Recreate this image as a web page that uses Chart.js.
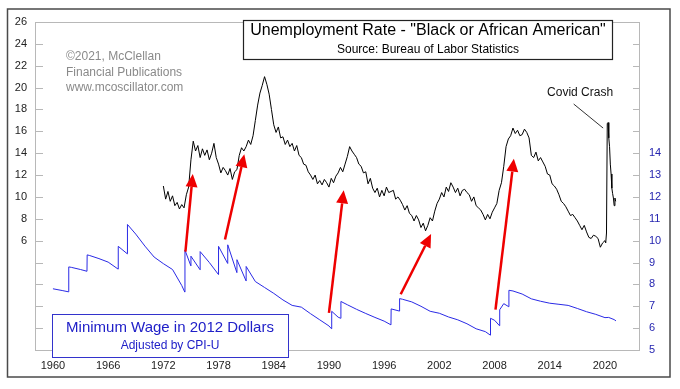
<!DOCTYPE html>
<html><head><meta charset="utf-8">
<script src="https://cdn.jsdelivr.net/npm/chart.js@4.4.0/dist/chart.umd.min.js"></script>
<style>html,body{margin:0;padding:0;background:#fff;}canvas{display:block;}</style>
</head><body>
<canvas id="c" width="680" height="389"></canvas>
<script>
// ---------- DATA ----------
const xTickYears = [1960,1966,1972,1978,1984,1990,1996,2002,2008,2014,2020];
const leftTickLabels = [6,8,10,12,14,16,18,20,22,24,26];
const rightTickLabels = [5,6,7,8,9,10,11,12,13,14];
const leftTickMarks = [-2,0,2,4,6,8,10,12,14,16,18,20,22,24];

// Unemployment rate, Black or African American (%), quarterly from 1972
const unempStartYear = 1972;
const unempQuarterly = [
  11.0, 9.8, 10.5, 9.6,   // 1972
  10.1, 9.2, 9.5, 8.9,    // 1973
  9.3, 9.0, 10.2, 10.9,   // 1974
  13.4, 15.1, 14.2, 14.7, // 1975
  13.6, 14.4, 13.8, 14.3, // 1976
  13.4, 14.0, 14.9, 13.6, // 1977
  13.0, 12.2, 12.7, 12.4, // 1978
  12.0, 12.6, 11.6, 12.3, // 1979
  12.5, 13.8, 14.5, 14.2, // 1980
  14.6, 15.2, 14.8, 15.6, // 1981
  17.0, 18.4, 19.5, 20.2, // 1982
  21.0, 20.3, 19.4, 18.0, // 1983
  16.6, 15.9, 16.4, 15.4, // 1984
  15.5, 14.8, 15.2, 14.6, // 1985
  14.9, 14.2, 14.7, 13.8, // 1986
  13.6, 13.0, 12.9, 12.3, // 1987
  12.0, 11.6, 12.0, 11.2, // 1988
  11.5, 11.1, 11.6, 11.3, // 1989
  10.9, 11.7, 11.3, 11.9, // 1990
  12.2, 12.7, 12.3, 13.0, // 1991
  13.7, 14.6, 14.2, 13.9, // 1992
  13.6, 13.0, 12.8, 12.2, // 1993
  12.3, 11.2, 11.7, 10.8, // 1994
  10.4, 10.8, 10.0, 10.6, // 1995
  10.1, 10.9, 10.4, 10.5, // 1996
  10.6, 9.8, 10.0, 9.7,   // 1997
  9.3, 8.8, 9.2, 8.5,     // 1998
  8.3, 7.8, 8.3, 7.9,     // 1999
  7.2, 7.6, 6.9, 7.4,     // 2000
  8.1, 7.8, 8.7, 9.4,     // 2001
  9.8, 10.4, 10.0, 10.9,  // 2002
  10.5, 11.3, 10.9, 10.4, // 2003
  10.8, 10.1, 10.6, 10.7, // 2004
  10.4, 10.2, 9.6, 10.0,  // 2005
  9.2, 9.0, 8.8, 8.4,     // 2006
  7.9, 8.4, 8.0, 8.6,     // 2007
  9.0, 9.4, 10.6, 11.3,   // 2008
  12.8, 14.6, 15.3, 15.6, // 2009
  16.3, 15.8, 16.1, 15.6, // 2010
  15.7, 16.2, 15.9, 15.4, // 2011
  13.8, 13.6, 14.1, 13.3, // 2012
  13.6, 13.2, 12.8, 12.1, // 2013
  12.0, 11.2, 11.0, 10.7, // 2014
  10.2, 9.6, 9.4, 9.1,    // 2015
  8.7, 8.3, 8.4, 8.1,     // 2016
  7.8, 7.4, 7.0, 7.4,     // 2017
  6.8, 6.3, 6.2, 6.5,     // 2018
  6.4, 6.2, 5.4, 5.8      // 2019
];
// Monthly from Jan 2020
const unempMonthly2020 = [6.0, 5.8, 6.7, 16.7, 16.8, 15.4, 14.6, 13.0, 12.1, 10.8, 10.3, 9.9, 9.2, 9.9, 9.6];

// Minimum wage in 2012 dollars (right axis)
const wageYears = [
  1960.0, 1961.0, 1961.70, 1961.72, 1962.0, 1963.0, 1963.70, 1963.72, 1964.0, 1965.0, 1966.0,
  1967.08, 1967.10, 1968.08, 1968.10, 1969.0, 1970.0, 1971.0, 1972.0, 1973.0, 1974.0,
  1974.33, 1974.35, 1974.99, 1975.0, 1975.99, 1976.0, 1977.0, 1977.99, 1978.0, 1978.99,
  1979.0, 1979.99, 1980.0, 1980.99, 1981.0, 1982.0, 1983.0, 1984.0, 1985.0, 1986.0,
  1987.0, 1988.0, 1989.0, 1990.0, 1990.28, 1990.30, 1991.0, 1991.28, 1991.30, 1992.0,
  1993.0, 1994.0, 1995.0, 1996.0, 1996.74, 1996.76, 1997.66, 1997.68, 1998.0, 1999.0,
  2000.0, 2001.0, 2002.0, 2003.0, 2004.0, 2005.0, 2006.0, 2007.0, 2007.54, 2007.56,
  2008.0, 2008.54, 2008.56, 2009.0, 2009.54, 2009.56, 2010.0, 2011.0, 2012.0, 2013.0,
  2014.0, 2015.0, 2016.0, 2017.0, 2018.0, 2019.0, 2020.0, 2020.4, 2021.0, 2021.2
];
const wageValues = [
  7.80, 7.72, 7.66, 8.80, 8.78, 8.68, 8.60, 9.35, 9.32, 9.18, 9.02,
  8.70, 9.74, 9.40, 10.74, 10.30, 9.75, 9.25, 8.95, 8.68, 7.95,
  7.65, 9.57, 8.85, 9.29, 8.67, 9.50, 9.00, 8.45, 9.74, 8.96,
  9.81, 8.54, 9.13, 8.16, 8.82, 8.13, 7.86, 7.59, 7.29, 7.04,
  6.96, 6.66, 6.38, 6.10, 5.97, 6.77, 6.50, 6.45, 7.22, 7.07,
  6.86, 6.67, 6.49, 6.32, 6.15, 6.88, 6.78, 7.35, 7.32, 7.20,
  7.00, 6.77, 6.68, 6.51, 6.38, 6.20, 5.97, 5.84, 5.68, 6.45,
  6.36, 6.11, 6.84, 7.12, 6.98, 7.73, 7.70, 7.56, 7.34, 7.23,
  7.14, 7.09, 7.04, 6.90, 6.75, 6.63, 6.48, 6.49, 6.39, 6.33
];

// Red arrows (annotation), in [year, left-axis value]
const arrowTails = [[1974.4, 5.0], [1978.7, 6.1], [1990.0, -0.6], [1997.8, 1.1], [2008.1, -0.3]];
const arrowHeads = [[1975.2, 12.1], [1980.8, 13.9], [1991.6, 10.6], [2001.1, 6.6], [2010.1, 13.5]];
// Covid label and leader line [year, left value]
const covidLabelAt = [2017.3, 19.5];
const covidLine = [[2016.6, 18.5], [2019.8, 16.3]];

// ---------- BUILD ----------
const unempPoints = unempQuarterly.map((v, i) => ({x: unempStartYear + i / 4, y: v}))
  .concat(unempMonthly2020.map((v, i) => ({x: 2020 + i / 12, y: v})));
const wagePoints = wageYears.map((yr, i) => ({x: yr, y: wageValues[i]}));

const FONT = "'Liberation Sans', Arial, sans-serif";
Chart.defaults.font.family = FONT;

const decor = {
  id: 'decor',
  beforeDraw(chart) {
    const c = chart.ctx;
    c.save();
    c.fillStyle = '#fff';
    c.fillRect(0, 0, chart.width, chart.height);
    c.strokeStyle = '#4a4a4a';
    c.lineWidth = 1.5;
    c.strokeRect(7.5, 9, 662.5, 368);
    c.restore();
  },
  beforeDatasetsDraw(chart) {
    const c = chart.ctx, a = chart.chartArea;
    const yL = chart.scales.yL;
    c.save();
    c.strokeStyle = '#b8b8b8';
    c.lineWidth = 1;
    c.strokeRect(Math.round(a.left) + 0.5, Math.round(a.top) + 0.5, Math.round(a.right - a.left), Math.round(a.bottom - a.top));
    c.beginPath();
    leftTickMarks.forEach(v => {
      const y = Math.round(yL.getPixelForValue(v)) + 0.5;
      c.moveTo(a.left, y); c.lineTo(a.left + 8, y);
      c.moveTo(a.right - 6, y); c.lineTo(a.right, y);
    });
    c.stroke();
    c.restore();
  },
  afterDatasetsDraw(chart) {
    const c = chart.ctx, xs = chart.scales.x, yL = chart.scales.yL;
    c.save();
    c.strokeStyle = '#ee0000';
    c.fillStyle = '#ee0000';
    c.lineWidth = 2.5;
    arrowTails.forEach((t, i) => {
      const h = arrowHeads[i];
      const x0 = xs.getPixelForValue(t[0]), y0 = yL.getPixelForValue(t[1]);
      const x1 = xs.getPixelForValue(h[0]), y1 = yL.getPixelForValue(h[1]);
      const ang = Math.atan2(y1 - y0, x1 - x0);
      const hl = 13, hw = 6;
      const bx = x1 - hl * Math.cos(ang), by = y1 - hl * Math.sin(ang);
      c.beginPath(); c.moveTo(x0, y0); c.lineTo(bx, by); c.stroke();
      c.beginPath();
      c.moveTo(x1, y1);
      c.lineTo(bx + hw * Math.sin(ang), by - hw * Math.cos(ang));
      c.lineTo(bx - hw * Math.sin(ang), by + hw * Math.cos(ang));
      c.closePath(); c.fill();
    });
    // covid leader line
    c.strokeStyle = '#333';
    c.lineWidth = 1;
    c.beginPath();
    c.moveTo(xs.getPixelForValue(covidLine[0][0]), yL.getPixelForValue(covidLine[0][1]));
    c.lineTo(xs.getPixelForValue(covidLine[1][0]), yL.getPixelForValue(covidLine[1][1]));
    c.stroke();
    c.restore();
  },
  afterDraw(chart) {
    const c = chart.ctx, xs = chart.scales.x, yL = chart.scales.yL;
    c.save();
    // title box
    c.fillStyle = '#fff';
    c.fillRect(243, 20, 369, 39);
    c.strokeStyle = '#222';
    c.lineWidth = 1.2;
    c.strokeRect(243.5, 20.5, 369, 39);
    c.fillStyle = '#000';
    c.textAlign = 'center';
    c.textBaseline = 'middle';
    c.font = '16px ' + FONT;
    c.fillText('Unemployment Rate - "Black or African American"', 428, 31);
    c.font = '12px ' + FONT;
    c.fillText('Source: Bureau of Labor Statistics', 428, 50);
    // legend box
    c.fillStyle = '#fff';
    c.fillRect(52, 314, 236, 43);
    c.strokeStyle = '#3333cc';
    c.lineWidth = 1;
    c.strokeRect(52.5, 314.5, 236, 43);
    c.fillStyle = '#2020c8';
    c.font = '15px ' + FONT;
    c.fillText('Minimum Wage in 2012 Dollars', 170, 328);
    c.font = '12px ' + FONT;
    c.fillText('Adjusted by CPI-U', 170, 346);
    // copyright
    c.fillStyle = '#8a8a8a';
    c.textAlign = 'left';
    c.font = '12px ' + FONT;
    c.fillText('\u00A92021, McClellan', 66, 57);
    c.fillText('Financial Publications', 66, 73);
    c.fillText('www.mcoscillator.com', 66, 88);
    // covid label
    c.fillStyle = '#111';
    c.textAlign = 'center';
    c.font = '12px ' + FONT;
    c.fillText('Covid Crash', xs.getPixelForValue(covidLabelAt[0]), yL.getPixelForValue(covidLabelAt[1]));
    c.restore();
  }
};

new Chart(document.getElementById('c'), {
  type: 'line',
  data: {
    datasets: [
      {label: 'Unemployment', data: unempPoints, yAxisID: 'yL', borderColor: '#000', borderWidth: 1, pointRadius: 0, tension: 0, fill: false},
      {label: 'Minimum wage', data: wagePoints, yAxisID: 'yR', borderColor: '#2a2ae6', borderWidth: 1, pointRadius: 0, tension: 0, fill: false}
    ]
  },
  options: {
    responsive: false,
    animation: false,
    events: [],
    layout: {padding: {top: 22, left: 0, right: 0, bottom: 0}},
    plugins: {legend: {display: false}, tooltip: {enabled: false}, title: {display: false}},
    scales: {
      x: {
        type: 'linear', position: 'bottom', min: 1958.05, max: 2023.7,
        grid: {display: false, drawTicks: false}, border: {display: false},
        afterBuildTicks: s => { s.ticks = xTickYears.map(v => ({value: v})); },
        afterFit: s => { s.height = 39; },
        ticks: {callback: v => String(v), color: '#222', font: {size: 11}, padding: 9, maxRotation: 0, autoSkip: false}
      },
      yL: {
        type: 'linear', position: 'left', min: -4, max: 26,
        grid: {display: false, drawTicks: false}, border: {display: false},
        afterBuildTicks: s => { s.ticks = leftTickLabels.map(v => ({value: v})); },
        afterFit: s => { s.width = 35; },
        ticks: {color: '#222', font: {size: 11}, padding: 8, autoSkip: false}
      },
      yR: {
        type: 'linear', position: 'right', min: 5, max: 20,
        grid: {display: false, drawTicks: false}, border: {display: false},
        afterBuildTicks: s => { s.ticks = rightTickLabels.map(v => ({value: v})); },
        afterFit: s => { s.width = 41; },
        ticks: {color: '#2525b0', font: {size: 11}, padding: 10, autoSkip: false}
      }
    }
  },
  plugins: [decor]
});
</script>
</body></html>
